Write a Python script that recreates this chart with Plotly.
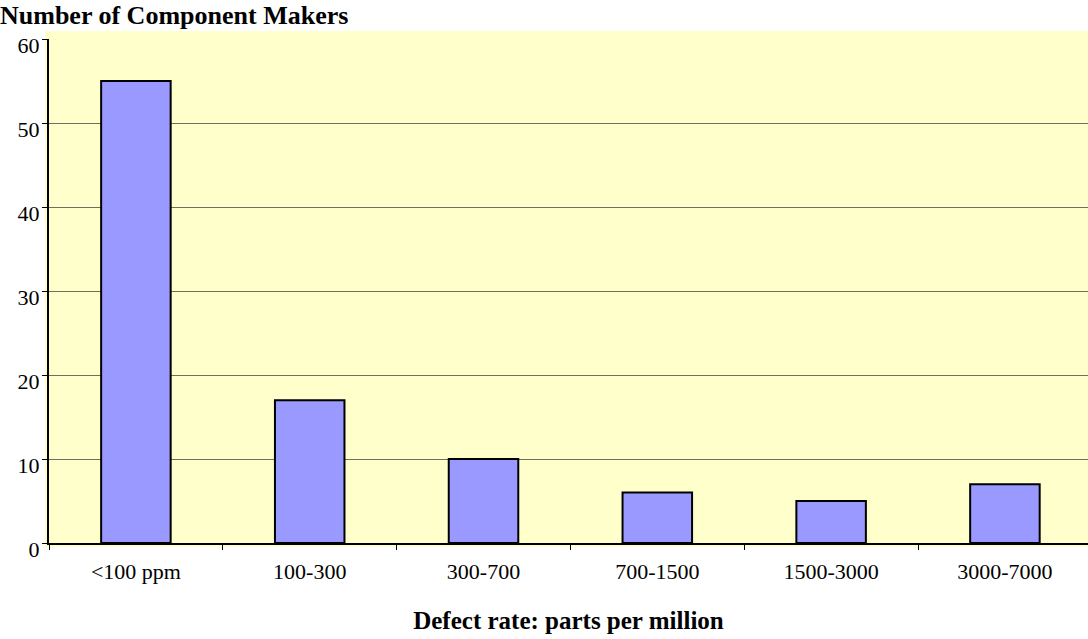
import plotly.graph_objects as go

categories = ["<100 ppm", "100-300", "300-700", "700-1500", "1500-3000", "3000-7000"]
makers = [55, 17, 10, 6, 5, 7]
y_ticks = [0, 10, 20, 30, 40, 50, 60]

W, H = 1088, 639
L, R, T, B = 49, 0, 39, 96
pw, ph = W - L - R, H - T - B

fig = go.Figure(go.Bar(
    x=categories, y=makers,
    marker=dict(color="#9999FF", line=dict(color="black", width=2)),
    width=0.4,
))

fig.add_shape(type="rect", xref="paper", yref="paper",
              x0=-4 / pw, x1=1.01, y0=-4 / ph, y1=1 + 8 / ph,
              fillcolor="#FFFFCC", line=dict(width=0), layer="below")

font = "Liberation Serif, Times New Roman, serif"
fig.update_layout(
    width=W, height=H,
    margin=dict(l=L, r=R, t=T, b=B, autoexpand=False),
    paper_bgcolor="white", plot_bgcolor="rgba(0,0,0,0)",
    font=dict(family=font, size=22, color="black"),
    showlegend=False,
    title=dict(text="<b>Number of Component Makers</b>", xref="container", x=0,
               xanchor="left", yref="container", y=1 - 15 / H, yanchor="middle",
               font=dict(family=font, size=26, color="black")),
    xaxis=dict(range=[-0.5, 5.478], tickson="boundaries", ticks="outside", ticklen=5,
               tickcolor="black", showline=True, linecolor="black", linewidth=1.5,
               showgrid=False, tickfont=dict(size=22), ticklabelstandoff=8,
               title=dict(text="<b>Defect rate: parts per million</b>", standoff=28,
                          font=dict(size=25))),
    yaxis=dict(range=[0, 60], tickvals=y_ticks, ticks="outside", ticklen=5,
               tickcolor="black", showline=True, linecolor="black", linewidth=2,
               showgrid=True, gridcolor="#6f6f60", gridwidth=1, zeroline=False,
               tickfont=dict(size=22), ticklabelstandoff=-2, ticklabelshift=6),
    bargap=0.6,
)

fig.write_html("out.html", config={"displayModeBar": False},
               post_script="document.body.style.margin='0';")
